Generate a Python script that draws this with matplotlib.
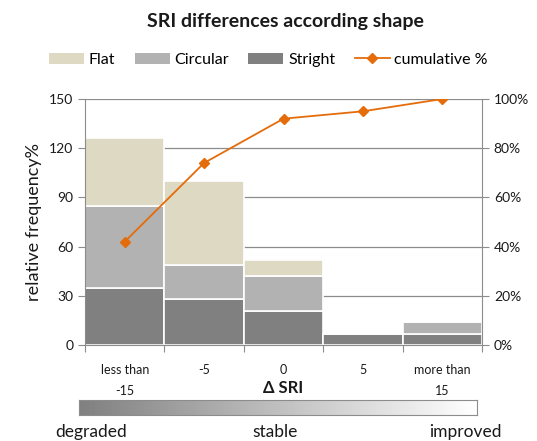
import numpy as np
import matplotlib.pyplot as plt
from matplotlib.lines import Line2D
from matplotlib.patches import Patch

plt.rcParams['font.family'] = ['Lato', 'DejaVu Sans']

categories = ["less than\n-15", "-5", "0", "5", "more than\n15"]
stright = [35, 28, 21, 7, 7]
circular = [50, 21, 21, 0, 7]
flat = [41, 51, 10, 0, 0]
cumulative = [42, 74, 92, 95, 100]

COL_FLAT = "#DDD9C3"
COL_CIRC = "#B2B2B2"
COL_STR = "#808080"
COL_LINE = "#E46C0A"
TXT = "#1a1a1a"

fig = plt.figure(figsize=(5.37, 4.41), dpi=100)
ax = fig.add_axes([0.1583, 0.2177, 0.7393, 0.5578])

x = np.arange(len(categories))
ax.bar(x, stright, width=1.0, color=COL_STR, edgecolor="white", linewidth=1.2, zorder=2)
ax.bar(x, circular, width=1.0, bottom=stright, color=COL_CIRC, edgecolor="white",
       linewidth=1.2, zorder=2)
bottom2 = np.array(stright) + np.array(circular)
ax.bar(x, flat, width=1.0, bottom=bottom2, color=COL_FLAT, edgecolor="white",
       linewidth=1.2, zorder=2)

ax.set_xlim(-0.5, len(categories) - 0.5)
ax.set_ylim(0, 150)
ax.set_yticks([0, 30, 60, 90, 120, 150])
ax.yaxis.grid(True, color="#8c8c8c", linewidth=0.9, zorder=0)
ax.set_axisbelow(True)
ax.set_xticks(np.arange(len(categories) + 1) - 0.5)
ax.set_xticklabels([])
ax.set_xticks(x, minor=True)
ax.set_xticklabels(categories, minor=True, fontsize=9, color=TXT, va="top", linespacing=1.9)
ax.tick_params(axis="x", which="minor", length=0, pad=14)
ax.tick_params(axis="x", which="major", length=5, color="#8c8c8c")
ax.tick_params(axis="y", length=5, color="#8c8c8c", labelsize=10, labelcolor=TXT)
for s in ["left", "bottom"]:
    ax.spines[s].set_color("#8c8c8c")
ax.spines["top"].set_visible(False)
ax.spines["right"].set_visible(False)
ax.set_ylabel("relative frequency%", fontsize=13, color=TXT, labelpad=5)

ax2 = ax.twinx()
ax2.plot(x, cumulative, color=COL_LINE, linewidth=1.3, marker="D", markersize=5.5,
         zorder=3)
ax2.set_ylim(0, 100)
ax2.set_yticks([0, 20, 40, 60, 80, 100])
ax2.set_yticklabels([f"{v}%" for v in [0, 20, 40, 60, 80, 100]])
ax2.tick_params(axis="y", length=5, color="#8c8c8c", labelsize=10, labelcolor=TXT)
ax2.spines["right"].set_color("#8c8c8c")
ax2.spines["left"].set_visible(False)
ax2.spines["top"].set_visible(False)
ax2.spines["bottom"].set_visible(False)

# axis title below the category labels
fig.text(283 / 537, 1 - 388 / 441, "\u0394 SRI", ha="center", va="center", fontsize=12,
         fontweight="bold", color=TXT)

fig.text(285 / 537, 1 - 22 / 441, "SRI differences according shape", ha="center",
         va="center", fontsize=14, fontweight="bold", color=TXT)

handles = [
    Patch(facecolor=COL_FLAT, edgecolor="none"),
    Patch(facecolor=COL_CIRC, edgecolor="none"),
    Patch(facecolor=COL_STR, edgecolor="none"),
    Line2D([0], [0], color=COL_LINE, marker="D", markersize=5, linewidth=1.3),
]
fig.legend(handles, ["Flat", "Circular", "Stright", "cumulative %"], loc="center",
           bbox_to_anchor=(0.5, 1 - 60 / 441), ncol=4, frameon=False, fontsize=11.5,
           handlelength=2.2, handleheight=0.7, columnspacing=1.2, handletextpad=0.3)

# gradient bar degraded -> improved
gax = fig.add_axes([79 / 537, 1 - 415 / 441, (477 - 79) / 537, 15 / 441])
grad = np.linspace(0, 1, 256).reshape(1, -1)
gax.imshow(grad, aspect="auto", cmap="gray", vmin=-1.0, vmax=1.0, extent=[0, 1, 0, 1])
gax.set_xticks([])
gax.set_yticks([])
for s in gax.spines.values():
    s.set_color("#8c8c8c")

fig.text(91 / 537, 1 - 432 / 441, "degraded", ha="center", va="center", fontsize=12.5, color=TXT)
fig.text(275 / 537, 1 - 432 / 441, "stable", ha="center", va="center", fontsize=12.5, color=TXT)
fig.text(465 / 537, 1 - 432 / 441, "improved", ha="center", va="center", fontsize=12.5, color=TXT)

fig.savefig("out.png", dpi=100)
